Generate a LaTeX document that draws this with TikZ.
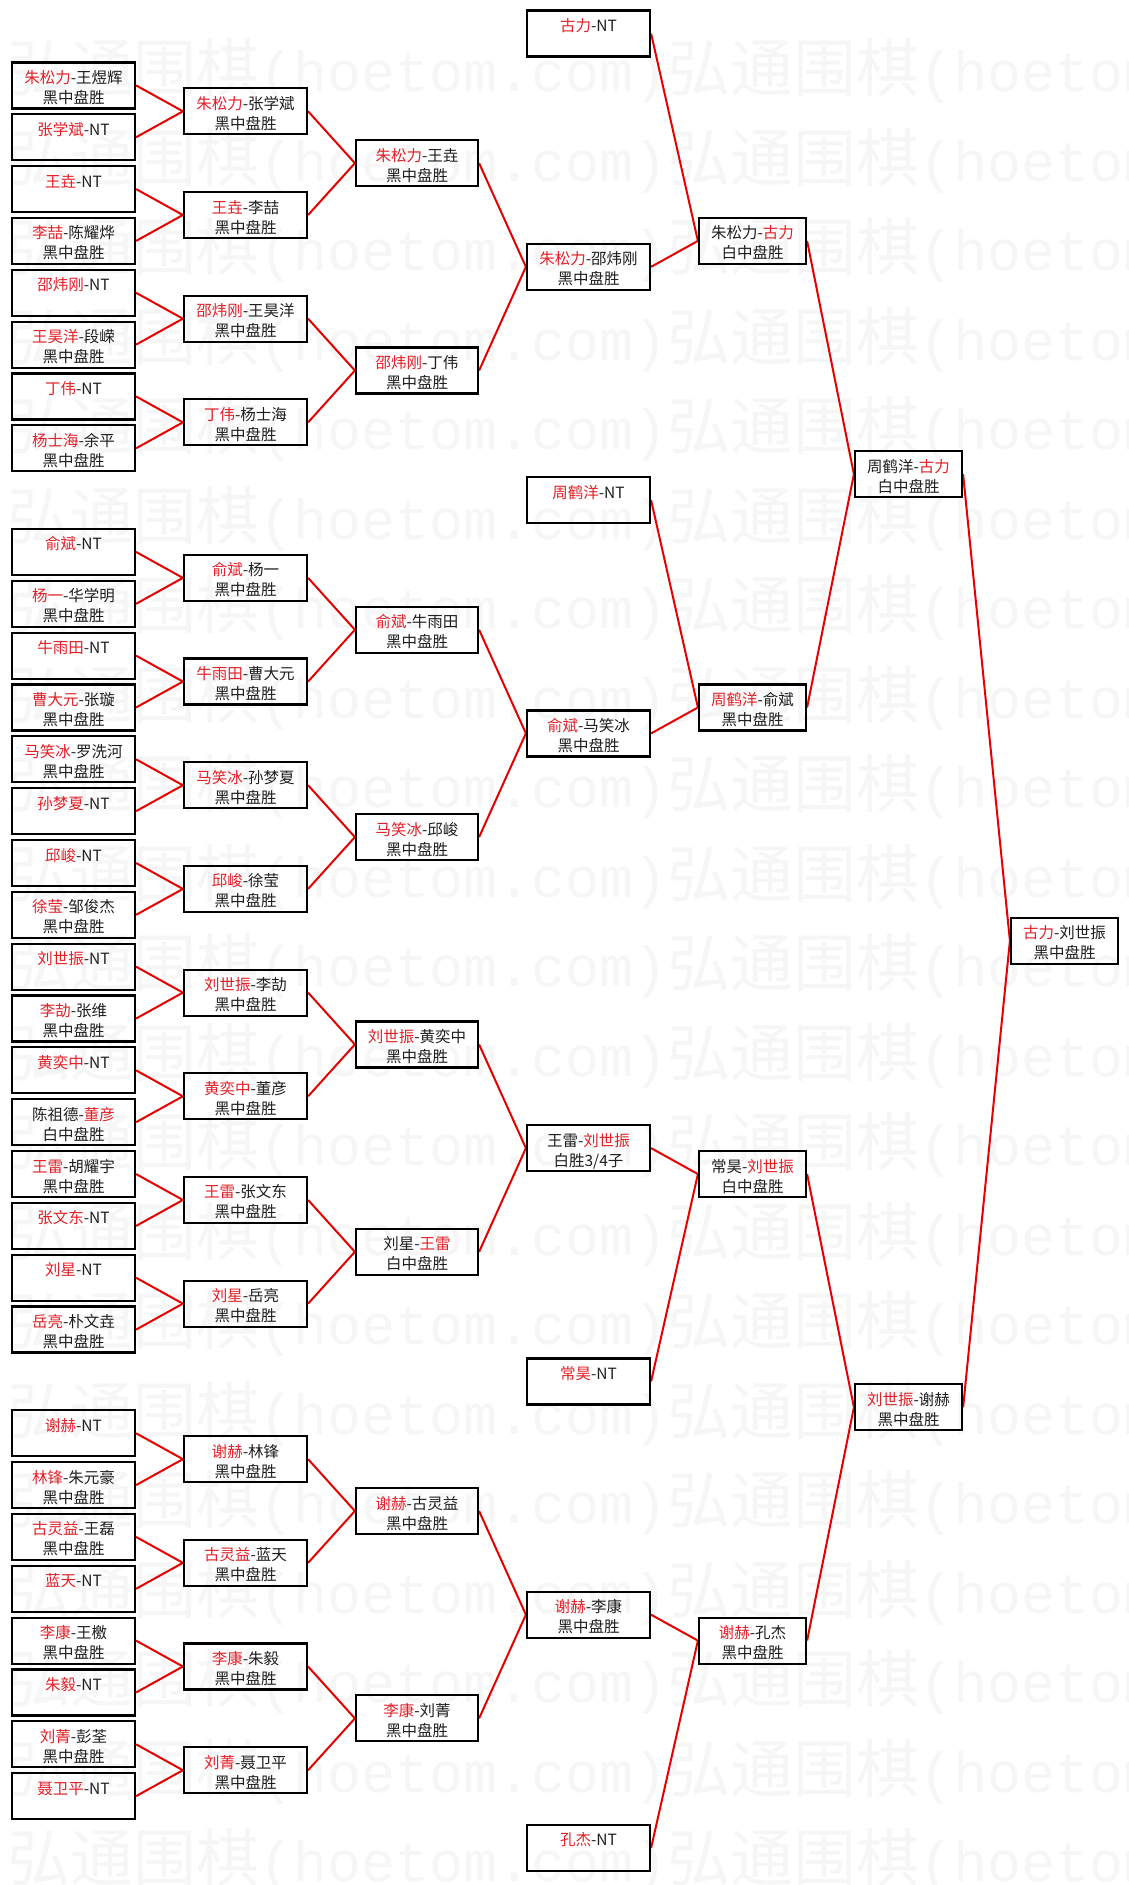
\documentclass[tikz,border=0pt]{standalone}
\usepackage{fontspec}
\setmainfont{Noto Sans CJK SC}
\newfontfamily\wmcjk{Noto Sans CJK SC}
\newfontfamily\wmlat{Liberation Mono}
\definecolor{wred}{RGB}{226,32,38}
\definecolor{lred}{RGB}{230,0,0}
\definecolor{tblack}{RGB}{30,30,30}
\definecolor{wmgray}{RGB}{246,246,246}
\pgfdeclarelayer{bg}
\pgfsetlayers{bg,main}
\newcommand\W[1]{\textcolor{wred}{#1}}
\newcommand\cell[2]{\vbox to 46pt{\offinterlineskip\vbox to 21pt{\vfil\hbox to 0pt{\hss\smash{#1}\hss}}\vbox to 20pt{\vfil\hbox to 0pt{\hss\smash{#2}\hss}}\vss}}
\tikzset{
  gbox/.style={draw=black, line width=2.2pt, inner sep=0pt, minimum height=46pt, text=tblack, font=\fontsize{15.5pt}{20pt}\selectfont},
  gwide/.style={gbox, minimum width=123pt},
  gmid/.style={gbox, minimum width=122pt},
  gnarrow/.style={gbox, minimum width=107pt},
  conn/.style={draw=lred, line width=2pt},
  wmark/.style={anchor=base west, inner sep=0pt, text=wmgray},
}
\begin{document}
\begin{tikzpicture}[x=1pt,y=-1pt]
\useasboundingbox (0,0) rectangle (1128,1885);
% ---- column 1
\node[gwide] (a1) at (73.5,85.4) {\cell{\W{朱松力}-王煜辉}{黑中盘胜}};
\node[gwide] (a2) at (73.5,137.24) {\cell{\W{张学斌}-NT}{}};
\node[gwide] (a3) at (73.5,189.08) {\cell{\W{王垚}-NT}{}};
\node[gwide] (a4) at (73.5,240.92) {\cell{\W{李喆}-陈耀烨}{黑中盘胜}};
\node[gwide] (a5) at (73.5,292.76) {\cell{\W{邵炜刚}-NT}{}};
\node[gwide] (a6) at (73.5,344.6) {\cell{\W{王昊洋}-段嵘}{黑中盘胜}};
\node[gwide] (a7) at (73.5,396.44) {\cell{\W{丁伟}-NT}{}};
\node[gwide] (a8) at (73.5,448.28) {\cell{\W{杨士海}-余平}{黑中盘胜}};
\node[gwide] (a9) at (73.5,551.96) {\cell{\W{俞斌}-NT}{}};
\node[gwide] (a10) at (73.5,603.8) {\cell{\W{杨一}-华学明}{黑中盘胜}};
\node[gwide] (a11) at (73.5,655.64) {\cell{\W{牛雨田}-NT}{}};
\node[gwide] (a12) at (73.5,707.48) {\cell{\W{曹大元}-张璇}{黑中盘胜}};
\node[gwide] (a13) at (73.5,759.32) {\cell{\W{马笑冰}-罗洗河}{黑中盘胜}};
\node[gwide] (a14) at (73.5,811.16) {\cell{\W{孙梦夏}-NT}{}};
\node[gwide] (a15) at (73.5,863.0) {\cell{\W{邱峻}-NT}{}};
\node[gwide] (a16) at (73.5,914.84) {\cell{\W{徐莹}-邹俊杰}{黑中盘胜}};
\node[gwide] (a17) at (73.5,966.68) {\cell{\W{刘世振}-NT}{}};
\node[gwide] (a18) at (73.5,1018.52) {\cell{\W{李劼}-张维}{黑中盘胜}};
\node[gwide] (a19) at (73.5,1070.36) {\cell{\W{黄奕中}-NT}{}};
\node[gwide] (a20) at (73.5,1122.2) {\cell{陈祖德-\W{董彦}}{白中盘胜}};
\node[gwide] (a21) at (73.5,1174.04) {\cell{\W{王雷}-胡耀宇}{黑中盘胜}};
\node[gwide] (a22) at (73.5,1225.88) {\cell{\W{张文东}-NT}{}};
\node[gwide] (a23) at (73.5,1277.72) {\cell{\W{刘星}-NT}{}};
\node[gwide] (a24) at (73.5,1329.56) {\cell{\W{岳亮}-朴文垚}{黑中盘胜}};
\node[gwide] (a25) at (73.5,1433.24) {\cell{\W{谢赫}-NT}{}};
\node[gwide] (a26) at (73.5,1485.08) {\cell{\W{林锋}-朱元豪}{黑中盘胜}};
\node[gwide] (a27) at (73.5,1536.92) {\cell{\W{古灵益}-王磊}{黑中盘胜}};
\node[gwide] (a28) at (73.5,1588.76) {\cell{\W{蓝天}-NT}{}};
\node[gwide] (a29) at (73.5,1640.6) {\cell{\W{李康}-王檄}{黑中盘胜}};
\node[gwide] (a30) at (73.5,1692.44) {\cell{\W{朱毅}-NT}{}};
\node[gwide] (a31) at (73.5,1744.28) {\cell{\W{刘菁}-彭荃}{黑中盘胜}};
\node[gwide] (a32) at (73.5,1796.12) {\cell{\W{聂卫平}-NT}{}};
% ---- column 2
\node[gwide] (b1) at (245.5,111.32) {\cell{\W{朱松力}-张学斌}{黑中盘胜}};
\node[gwide] (b2) at (245.5,215.0) {\cell{\W{王垚}-李喆}{黑中盘胜}};
\node[gwide] (b3) at (245.5,318.68) {\cell{\W{邵炜刚}-王昊洋}{黑中盘胜}};
\node[gwide] (b4) at (245.5,422.36) {\cell{\W{丁伟}-杨士海}{黑中盘胜}};
\node[gwide] (b5) at (245.5,577.88) {\cell{\W{俞斌}-杨一}{黑中盘胜}};
\node[gwide] (b6) at (245.5,681.56) {\cell{\W{牛雨田}-曹大元}{黑中盘胜}};
\node[gwide] (b7) at (245.5,785.24) {\cell{\W{马笑冰}-孙梦夏}{黑中盘胜}};
\node[gwide] (b8) at (245.5,888.92) {\cell{\W{邱峻}-徐莹}{黑中盘胜}};
\node[gwide] (b9) at (245.5,992.6) {\cell{\W{刘世振}-李劼}{黑中盘胜}};
\node[gwide] (b10) at (245.5,1096.28) {\cell{\W{黄奕中}-董彦}{黑中盘胜}};
\node[gwide] (b11) at (245.5,1199.96) {\cell{\W{王雷}-张文东}{黑中盘胜}};
\node[gwide] (b12) at (245.5,1303.64) {\cell{\W{刘星}-岳亮}{黑中盘胜}};
\node[gwide] (b13) at (245.5,1459.16) {\cell{\W{谢赫}-林锋}{黑中盘胜}};
\node[gwide] (b14) at (245.5,1562.84) {\cell{\W{古灵益}-蓝天}{黑中盘胜}};
\node[gwide] (b15) at (245.5,1666.52) {\cell{\W{李康}-朱毅}{黑中盘胜}};
\node[gwide] (b16) at (245.5,1770.2) {\cell{\W{刘菁}-聂卫平}{黑中盘胜}};
% ---- column 3
\node[gmid] (c1) at (417,163.16) {\cell{\W{朱松力}-王垚}{黑中盘胜}};
\node[gmid] (c2) at (417,370.52) {\cell{\W{邵炜刚}-丁伟}{黑中盘胜}};
\node[gmid] (c3) at (417,629.72) {\cell{\W{俞斌}-牛雨田}{黑中盘胜}};
\node[gmid] (c4) at (417,837.08) {\cell{\W{马笑冰}-邱峻}{黑中盘胜}};
\node[gmid] (c5) at (417,1044.44) {\cell{\W{刘世振}-黄奕中}{黑中盘胜}};
\node[gmid] (c6) at (417,1251.8) {\cell{刘星-\W{王雷}}{白中盘胜}};
\node[gmid] (c7) at (417,1511.0) {\cell{\W{谢赫}-古灵益}{黑中盘胜}};
\node[gmid] (c8) at (417,1718.36) {\cell{\W{李康}-刘菁}{黑中盘胜}};
% ---- column 4
\node[gwide] (d1) at (588.5,33.56) {\cell{\W{古力}-NT}{}};
\node[gwide] (d2) at (588.5,266.84) {\cell{\W{朱松力}-邵炜刚}{黑中盘胜}};
\node[gwide] (d3) at (588.5,500.12) {\cell{\W{周鹤洋}-NT}{}};
\node[gwide] (d4) at (588.5,733.4) {\cell{\W{俞斌}-马笑冰}{黑中盘胜}};
\node[gwide] (d5) at (588.5,1148.12) {\cell{王雷-\W{刘世振}}{白胜3/4子}};
\node[gwide] (d6) at (588.5,1381.4) {\cell{\W{常昊}-NT}{}};
\node[gwide] (d7) at (588.5,1614.68) {\cell{\W{谢赫}-李康}{黑中盘胜}};
\node[gwide] (d8) at (588.5,1847.96) {\cell{\W{孔杰}-NT}{}};
% ---- column 5
\node[gnarrow] (e1) at (752.5,240.92) {\cell{朱松力-\W{古力}}{白中盘胜}};
\node[gnarrow] (e2) at (752.5,707.48) {\cell{\W{周鹤洋}-俞斌}{黑中盘胜}};
\node[gnarrow] (e3) at (752.5,1174.04) {\cell{常昊-\W{刘世振}}{白中盘胜}};
\node[gnarrow] (e4) at (752.5,1640.6) {\cell{\W{谢赫}-孔杰}{黑中盘胜}};
% ---- column 6
\node[gnarrow] (f1) at (908.5,474.2) {\cell{周鹤洋-\W{古力}}{白中盘胜}};
\node[gnarrow] (f2) at (908.5,1407.32) {\cell{\W{刘世振}-谢赫}{黑中盘胜}};
% ---- column 7
\node[gnarrow] (g1) at (1064.5,940.76) {\cell{\W{古力}-刘世振}{黑中盘胜}};
\begin{pgfonlayer}{bg}
\fill[white] (0,0) rectangle (1128,1885);
\foreach \k in {0,...,20}{
  \node[wmark] (wl\k) at (7,{91.5+89.5*\k}) {\wmcjk\fontsize{63pt}{63pt}\selectfont 弘通围棋\wmlat\fontsize{56.7pt}{63pt}\selectfont(hoetom.com)};
  \node[wmark] (wr\k) at (667,{91.5+89.5*\k}) {\wmcjk\fontsize{63pt}{63pt}\selectfont 弘通围棋\wmlat\fontsize{56.7pt}{63pt}\selectfont(hoetom.com)};
}
% connectors round 1
\foreach \i/\j/\t in {1/2/1,3/4/2,5/6/3,7/8/4,9/10/5,11/12/6,13/14/7,15/16/8,17/18/9,19/20/10,21/22/11,23/24/12,25/26/13,27/28/14,29/30/15,31/32/16}{
  \draw[conn] (a\i.east) -- (b\t.west);
  \draw[conn] (a\j.east) -- (b\t.west);
}
% round 2
\foreach \i/\j/\t in {1/2/1,3/4/2,5/6/3,7/8/4,9/10/5,11/12/6,13/14/7,15/16/8}{
  \draw[conn] (b\i.east) -- (c\t.west);
  \draw[conn] (b\j.east) -- (c\t.west);
}
% round 3
\foreach \i/\j/\t in {1/2/2,3/4/4,5/6/5,7/8/7}{
  \draw[conn] (c\i.east) -- (d\t.west);
  \draw[conn] (c\j.east) -- (d\t.west);
}
% round 4
\foreach \i/\j/\t in {1/2/1,3/4/2,5/6/3,7/8/4}{
  \draw[conn] (d\i.east) -- (e\t.west);
  \draw[conn] (d\j.east) -- (e\t.west);
}
% round 5
\draw[conn] (e1.east) -- (f1.west);
\draw[conn] (e2.east) -- (f1.west);
\draw[conn] (e3.east) -- (f2.west);
\draw[conn] (e4.east) -- (f2.west);
% final
\draw[conn] (f1.east) -- (g1.west);
\draw[conn] (f2.east) -- (g1.west);
\end{pgfonlayer}
\end{tikzpicture}
\end{document}
